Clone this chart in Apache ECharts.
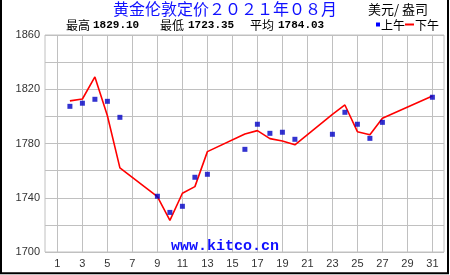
<!DOCTYPE html>
<html><head><meta charset="utf-8">
<script src="https://cdn.jsdelivr.net/npm/echarts@6/dist/echarts.min.js"></script>
<style>html,body{margin:0;padding:0;background:#fff}#c{width:450px;height:275px}</style>
</head><body><div id="c"></div>
<script>
const days = [2,3,4,5,6,9,10,11,12,13,16,17,18,19,20,23,24,25,26,27,31];
const amPrices = [1807.4,1809.7,1812.6,1811.1,1799.3,1741.1,1729.2,1733.7,1755.1,1757.3,1775.7,1794.2,1787.5,1788.3,1783.1,1786.8,1803.0,1794.2,1783.8,1795.6,1814.1];
const pmPrices = [1811.4,1812.8,1829.1,1800.5,1762.0,1740.8,1723.35,1743.3,1748.2,1774.0,1787.0,1789.5,1783.6,1781.9,1779.0,1801.5,1808.4,1788.7,1786.5,1798.6,1815.0];
const yLabelValues = [1700,1740,1780,1820,1860];
const titleText = '黄金伦敦定价２０２１年０８月';
const unitText = '美元/ 盎司';
const statLabels = ['最高','最低','平均'];
const statValues = ['1829.10','1723.35','1784.03'];
const seriesNames = ['上午','下午'];
const watermark = 'www.kitco.cn';

const chart = echarts.init(document.getElementById('c'), null, {renderer:'canvas'});
const CJK = '"Noto Sans CJK SC", sans-serif';
const statX = [[66,93],[160,188],[250,278]];
const graphic = [
  {type:'text', left:'center', top:1, style:{text:titleText, font:'16px '+CJK, fill:'#1010ff'}, z:10},
  {type:'text', x:368, y:9, style:{text:unitText, font:'13px '+CJK, fill:'#000', textVerticalAlign:'middle'}, z:10},
  {type:'rect', shape:{x:376,y:22.5,width:4,height:4}, style:{fill:'#0000ff'}, z:10},
  {type:'text', x:381, y:25, style:{text:seriesNames[0], font:'12px '+CJK, fill:'#000', textVerticalAlign:'middle'}, z:10},
  {type:'line', shape:{x1:405,y1:24.5,x2:414,y2:24.5}, style:{stroke:'#ff0000', lineWidth:2}, z:10},
  {type:'text', x:415, y:25, style:{text:seriesNames[1], font:'12px '+CJK, fill:'#000', textVerticalAlign:'middle'}, z:10},
  {type:'text', x:225, y:246, style:{text:watermark, font:'bold 15px "Liberation Mono", monospace', fill:'#1010ff', textAlign:'center', textVerticalAlign:'middle'}, z:10},
  {type:'line', shape:{x1:1,y1:0,x2:1,y2:274}, style:{stroke:'#000', lineWidth:2}, z:10},
  {type:'line', shape:{x1:0,y1:273.3,x2:449,y2:273.3}, style:{stroke:'#000', lineWidth:2}, z:10},
  {type:'line', shape:{x1:448,y1:0,x2:448,y2:274}, style:{stroke:'#000', lineWidth:2}, z:10}
];
statLabels.forEach((l,i)=>{
  graphic.push({type:'text', x:statX[i][0], y:25, style:{text:l, font:'12px '+CJK, fill:'#000', textVerticalAlign:'middle'}, z:10});
  graphic.push({type:'text', x:statX[i][1], y:25.5, style:{text:statValues[i], font:'bold 11px "Liberation Mono", monospace', fill:'#000', textVerticalAlign:'middle'}, z:10});
});

chart.setOption({
  animation:false,
  backgroundColor:'#fff',
  grid:[
    {left:45, top:35, width:399, height:217, show:true, borderColor:'#c0c0c0', borderWidth:1, backgroundColor:'transparent'},
    {left:57.4, top:35, width:375, height:217}
  ],
  xAxis:[
    {gridIndex:0, type:'value', min:0, max:32, show:false},
    {gridIndex:1, type:'value', min:1, max:31, interval:2,
     axisLine:{show:false}, axisTick:{show:false},
     axisLabel:{color:'#333', fontSize:11, fontFamily:'Liberation Sans', margin:6},
     splitLine:{show:true, lineStyle:{color:'#c0c0c0', width:1}}}
  ],
  yAxis:[
    {gridIndex:0, type:'value', min:1700, max:1860, interval:20,
     axisLine:{show:false}, axisTick:{show:false},
     axisLabel:{color:'#333', fontSize:11, fontFamily:'Liberation Sans', margin:5,
       formatter:v=> yLabelValues.includes(v) ? String(v) : ''},
     splitLine:{show:true, lineStyle:{color:'#c0c0c0', width:1}}},
    {gridIndex:1, type:'value', min:1700, max:1860, show:false, splitLine:{show:false}}
  ],
  series:[
    {name:seriesNames[1], type:'line', xAxisIndex:1, yAxisIndex:1, symbol:'none',
     lineStyle:{color:'#ff0000', width:1.6}, data:days.map((d,i)=>[d,pmPrices[i]]), z:3},
    {name:seriesNames[0], type:'scatter', xAxisIndex:1, yAxisIndex:1, symbol:'rect', symbolSize:5,
     itemStyle:{color:'#0000c4'}, data:days.map((d,i)=>[d,amPrices[i]]), z:4}
  ],
  graphic:graphic
});
</script></body></html>
